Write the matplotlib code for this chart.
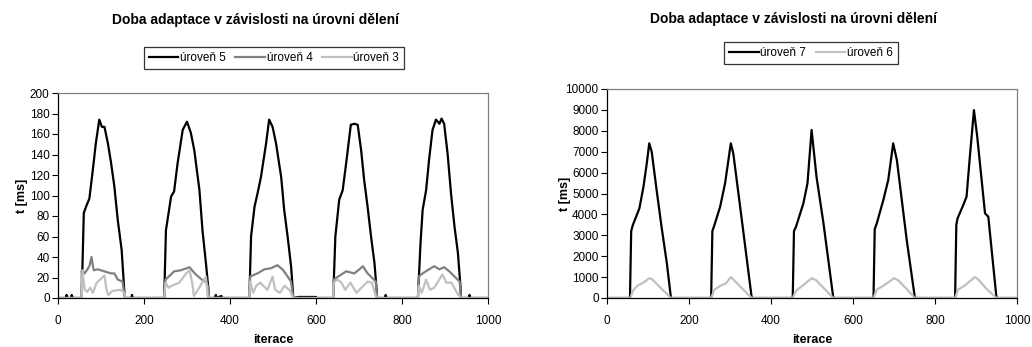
import matplotlib
matplotlib.use("Agg")
import matplotlib.pyplot as plt

plt.rcParams['font.family'] = ['Liberation Sans', 'DejaVu Sans']

title = 'Doba adaptace v závislosti na úrovni dělení'
x_ticks = [0, 200, 400, 600, 800, 1000]

# left chart - levels 5, 4, 3
lvl5_x = [0, 18, 20, 22, 30, 32, 34, 55,
          55, 60, 67, 73, 81, 88, 96, 102, 108, 116, 123, 131, 139, 148, 154, 156,
          170, 172, 174, 240, 247,
          247, 251, 263, 270, 278, 290, 300, 309, 317, 329, 336, 344, 350, 351,
          365, 367, 369, 380, 382, 440, 445,
          445, 449, 457, 464, 472, 484, 491, 499, 507, 519, 526, 534, 542, 546, 547,
          560, 600, 602, 635, 640,
          640, 645, 654, 662, 670, 681, 689, 697, 705, 712, 720, 728, 736, 741, 742,
          760, 762, 764, 832, 837,
          837, 843, 848, 856, 863, 871, 879, 887, 892, 898, 906, 914, 922, 930, 936, 937,
          955, 957, 959, 1000]
lvl5_y = [0, 0, 3, 0, 0, 3, 0, 0,
          0, 83, 91, 97, 125, 151, 174, 167, 167, 151, 133, 109, 76, 47, 8, 0,
          0, 3, 0, 0, 0,
          0, 66, 99, 104, 131, 164, 172, 161, 144, 105, 66, 34, 8, 0,
          0, 3, 0, 2, 0, 0, 0,
          0, 60, 89, 102, 118, 151, 174, 167, 151, 118, 86, 60, 31, 8, 0,
          1, 1, 0, 0, 0,
          0, 60, 96, 105, 131, 169, 170, 169, 144, 115, 89, 60, 34, 8, 0,
          0, 3, 0, 0, 0,
          0, 53, 86, 105, 135, 164, 174, 170, 175, 170, 141, 102, 70, 44, 11, 0,
          0, 3, 0, 0]

lvl4_x = [0, 55, 55, 62, 73, 78, 83, 92, 108, 123, 131, 139, 150, 155, 156,
          247, 250, 263, 270, 285, 306, 318, 334, 344, 350, 351,
          445, 447, 464, 480, 495, 510, 522, 534, 542, 547,
          640, 641, 652, 670, 689, 701, 709, 720, 732, 739, 742,
          837, 839, 848, 863, 875, 887, 898, 910, 922, 934, 937, 1000]
lvl4_y = [0, 0, 27, 24, 31, 40, 27, 28, 26, 24, 24, 18, 16, 2, 0,
          0, 18, 23, 26, 27, 30, 24, 18, 16, 10, 0,
          0, 21, 24, 28, 29, 32, 28, 21, 16, 0,
          0, 18, 21, 26, 24, 28, 31, 24, 19, 16, 0,
          0, 21, 24, 28, 31, 28, 30, 26, 21, 16, 0, 0]

lvl3_x = [0, 55, 57, 62, 68, 75, 81, 90, 108, 113, 117, 127, 145, 155, 156,
          247, 250, 257, 265, 282, 298, 306, 312, 316, 324, 344, 348, 351,
          445, 447, 454, 461, 470, 487, 499, 505, 516, 527, 540, 547,
          640, 641, 650, 659, 668, 680, 694, 720, 730, 738, 742,
          837, 839, 846, 856, 865, 875, 894, 903, 915, 928, 937, 1000]
lvl3_y = [0, 0, 27, 8, 6, 10, 5, 15, 22, 8, 3, 7, 8, 5, 0,
          0, 15, 10, 12, 15, 24, 27, 15, 2, 7, 21, 2, 0,
          0, 16, 5, 12, 15, 8, 21, 8, 5, 12, 7, 0,
          0, 15, 18, 15, 8, 15, 5, 16, 15, 3, 0,
          0, 12, 5, 18, 8, 10, 23, 15, 15, 5, 0, 0]

# right chart - levels 7, 6
lvl7_x = [0, 56, 59, 63, 79, 89, 97, 103, 109, 121, 133, 146, 156,
          254, 257, 262, 276, 288, 302, 308, 332, 353,
          453, 456, 461, 479, 489, 499, 511, 528, 552,
          650, 653, 658, 674, 686, 698, 707, 731, 751,
          849, 852, 855, 869, 877, 885, 895, 903, 922, 930, 950, 1000]
lvl7_y = [0, 0, 3200, 3490, 4290, 5330, 6440, 7400, 7000, 5170, 3410, 1660, 0,
          0, 3200, 3490, 4370, 5490, 7400, 6920, 3250, 0,
          0, 3200, 3410, 4530, 5490, 8040, 5800, 3570, 0,
          0, 3300, 3570, 4690, 5650, 7400, 6600, 2780, 0,
          0, 3500, 3810, 4450, 4850, 6760, 8990, 7720, 4050, 3890, 0, 0]

lvl6_x = [0, 57, 63, 75, 90, 103, 110, 130, 156,
          254, 262, 278, 290, 302, 310, 330, 353,
          453, 461, 478, 490, 500, 510, 530, 552,
          650, 658, 675, 690, 700, 710, 730, 751,
          849, 856, 873, 885, 897, 905, 925, 950, 1000]
lvl6_y = [0, 0, 350, 600, 750, 950, 900, 500, 0,
          0, 400, 600, 700, 1000, 850, 450, 0,
          0, 350, 600, 800, 950, 850, 450, 0,
          0, 400, 600, 800, 950, 850, 450, 0,
          0, 400, 600, 800, 1000, 900, 450, 0, 0]

W, H = 1032, 347
fig = plt.figure(figsize=(W / 100, H / 100), dpi=100)


def style_axes(ax, ymax, ystep, ylab_x, xlab_y):
    ax.set_xlim(0, 1000)
    ax.set_ylim(0, ymax)
    ax.set_xticks(x_ticks)
    ax.set_yticks(range(0, ymax + 1, ystep))
    ax.tick_params(labelsize=8.5, length=4, width=0.8, direction='out', pad=2)
    ax.tick_params(axis='x', pad=8)
    for s in ['top', 'right']:
        ax.spines[s].set_color('#808080')
    for s in ['left', 'bottom']:
        ax.spines[s].set_color('#000000')
    for s in ax.spines.values():
        s.set_linewidth(0.9)
    ax.set_xlabel('iterace', fontsize=9, fontweight='bold', va='center')
    ax.set_ylabel('t [ms]', fontsize=9, fontweight='bold', va='center')
    ax.yaxis.set_label_coords(ylab_x, 0.5)
    ax.xaxis.set_label_coords(0.5, xlab_y)


ax1 = fig.add_axes([58 / W, 1 - 298 / H, 430 / W, 205 / H])
ax1.plot(lvl5_x, lvl5_y, color='#000000', lw=1.6, label='úroveň 5')
ax1.plot(lvl4_x, lvl4_y, color='#808080', lw=1.6, label='úroveň 4')
ax1.plot(lvl3_x, lvl3_y, color='#c0c0c0', lw=1.6, label='úroveň 3')
style_axes(ax1, 200, 20, (22 - 58) / 430, (298 - 340) / 205)

ax2 = fig.add_axes([607 / W, 1 - 298 / H, 410 / W, 209 / H])
ax2.plot(lvl7_x, lvl7_y, color='#000000', lw=1.6, label='úroveň 7')
ax2.plot(lvl6_x, lvl6_y, color='#c0c0c0', lw=1.6, label='úroveň 6')
style_axes(ax2, 10000, 1000, (565 - 607) / 410, (298 - 340) / 209)

fig.text(255 / W, 1 - 20 / H, title, ha='center', va='center',
         fontsize=10, fontweight='bold')
fig.text(793 / W, 1 - 19 / H, title, ha='center', va='center',
         fontsize=10, fontweight='bold')

for ax, cx, cy, nc in [(ax1, 274, 58, 3), (ax2, 811, 53, 2)]:
    leg = ax.legend(loc='center', bbox_to_anchor=(cx / W, 1 - cy / H),
                    bbox_transform=fig.transFigure, ncol=nc, fontsize=8.5,
                    frameon=True, fancybox=False, handlelength=2.5,
                    handletextpad=0.15, columnspacing=0.8, borderpad=0.4,
                    borderaxespad=0)
    leg.get_frame().set_edgecolor('#000000')
    leg.get_frame().set_linewidth(0.9)

fig.savefig('out.png', dpi=100)
